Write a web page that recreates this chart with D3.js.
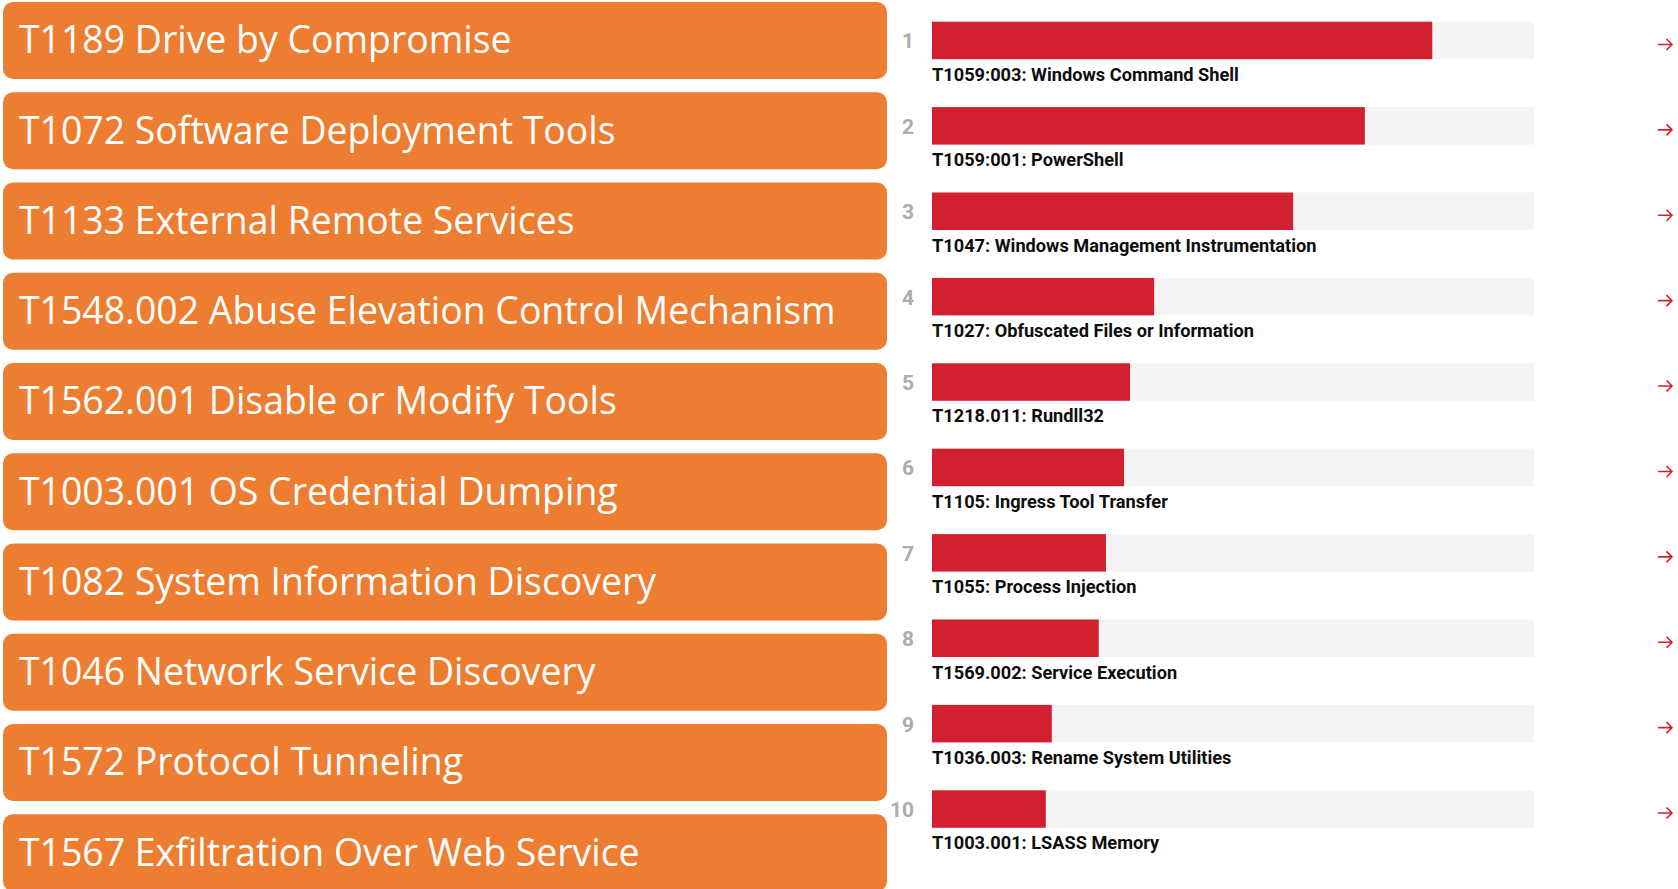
<!DOCTYPE html>
<html>
<head>
<meta charset="utf-8">
<script src="https://cdn.jsdelivr.net/npm/d3@7"></script>
<style>
  body { margin: 0; background: #fff; }
  svg { display: block; }
</style>
</head>
<body>
<div id="chart"></div>
<script>
const width = 1678;
const height = 889;

// left column: techniques in orange boxes
const leftTechniques = [
  "T1189 Drive by Compromise",
  "T1072 Software Deployment Tools",
  "T1133 External Remote Services",
  "T1548.002 Abuse Elevation Control Mechanism",
  "T1562.001 Disable or Modify Tools",
  "T1003.001 OS Credential Dumping",
  "T1082 System Information Discovery",
  "T1046 Network Service Discovery",
  "T1572 Protocol Tunneling",
  "T1567 Exfiltration Over Web Service"
];

// right column: ranked bars
const ranks = ["1", "2", "3", "4", "5", "6", "7", "8", "9", "10"];
const rightLabels = [
  "T1059:003: Windows Command Shell",
  "T1059:001: PowerShell",
  "T1047: Windows Management Instrumentation",
  "T1027: Obfuscated Files or Information",
  "T1218.011: Rundll32",
  "T1105: Ingress Tool Transfer",
  "T1055: Process Injection",
  "T1569.002: Service Execution",
  "T1036.003: Rename System Utilities",
  "T1003.001: LSASS Memory"
];
// share of max, in percent
const rightValues = [83.1, 71.9, 60.0, 36.9, 32.9, 31.9, 28.9, 27.7, 19.9, 18.9];

const svg = d3.select("#chart")
  .append("svg")
  .attr("width", width)
  .attr("height", height);

// ---- left boxes
const yLeft = d3.scaleBand()
  .domain(leftTechniques)
  .range([2, 2 + 90.25 * (10 - 0.147)])
  .paddingInner(0.147)
  .paddingOuter(0);

const left = svg.append("g")
  .selectAll("g")
  .data(leftTechniques)
  .join("g")
  .attr("transform", d => `translate(0,${yLeft(d)})`);

left.append("rect")
  .attr("x", 3)
  .attr("width", 884)
  .attr("height", yLeft.bandwidth())
  .attr("rx", 10)
  .attr("fill", "#ed7d31");

left.append("text")
  .attr("x", 19)
  .attr("y", yLeft.bandwidth() / 2 + 13)
  .attr("fill", "#fff")
  .style("font-family", "'Open Sans', sans-serif")
  .style("font-size", "37.4px")
  .text(d => d);

// ---- right bars
const x = d3.scaleLinear().domain([0, 100]).range([932, 1534]);

const yRight = d3.scaleBand()
  .domain(rightLabels)
  .range([21.7, 21.7 + 85.4 * (10 - 0.561)])
  .paddingInner(0.561)
  .paddingOuter(0);

const rows = svg.append("g")
  .selectAll("g")
  .data(rightLabels)
  .join("g")
  .attr("transform", d => `translate(0,${yRight(d)})`);

const bh = yRight.bandwidth();

// track
rows.append("rect")
  .attr("x", x(0))
  .attr("width", x(100) - x(0))
  .attr("height", bh)
  .attr("fill", "#f5f3f4");

// value bar
rows.append("rect")
  .attr("x", x(0))
  .attr("width", (d, i) => x(rightValues[i]) - x(0))
  .attr("height", bh)
  .attr("fill", "#d22030");

// rank number
rows.append("text")
  .attr("x", 914)
  .attr("y", bh / 2 + 8)
  .attr("text-anchor", "end")
  .attr("fill", "#acacac")
  .style("font-family", "Roboto, sans-serif")
  .style("font-weight", 700)
  .style("font-size", "21px")
  .text((d, i) => ranks[i]);

// label under bar
rows.append("text")
  .attr("x", x(0))
  .attr("y", 59)
  .attr("fill", "#0d0d0d")
  .style("font-family", "Roboto, sans-serif")
  .style("font-weight", 700)
  .style("font-size", "18.2px")
  .text(d => d);

// arrow on the far right
rows.append("path")
  .attr("d", `M1658,${bh / 2 + 4}H1672M1666.5,${bh / 2 - 1.5}L1672,${bh / 2 + 4}L1666.5,${bh / 2 + 9.5}`)
  .attr("fill", "none")
  .attr("stroke", "#d22030")
  .attr("stroke-width", 1.6);
</script>
</body>
</html>
